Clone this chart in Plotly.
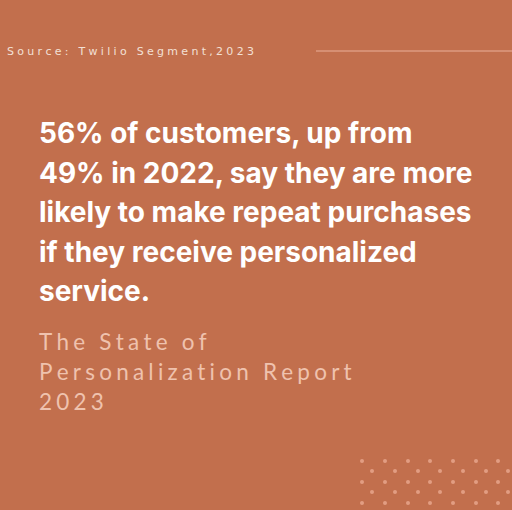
import plotly.graph_objects as go

BG = "#c26f4d"
source_text = "Source: Twilio Segment,2023"
headline = ["56% of customers, up from", "49% in 2022, say they are more",
            "likely to make repeat purchases", "if they receive personalized", "service."]
subtitle = ["The State of", "Personalization Report", "2023"]
dot_cols = [362, 385, 408, 430, 453, 476, 498]
dot_rows = [461, 471, 482, 492, 503]

def spaced(s, sep="\u2009"):
    return sep.join(s)

xs, ys = [], []
for i, r in enumerate(dot_rows):
    off = 10 if i % 2 else 0
    for c in dot_cols:
        xs.append(c + off); ys.append(r)

fig = go.Figure()
fig.add_trace(go.Scatter(x=xs, y=ys, mode="markers",
                         marker=dict(size=4, color="#e29d82"), hoverinfo="skip"))
fig.add_shape(type="line", x0=316, x1=512, y0=51, y1=51,
              line=dict(color="#dc9a80", width=1.5))
anns = [dict(x=5, y=51, text=spaced(source_text, "\u200a\u2009"), xanchor="left", yanchor="middle",
             font=dict(family="DejaVu Sans", size=11, color="#f3e0d6"))]
for i, t in enumerate(headline):
    anns.append(dict(x=37, y=133 + i * 39.5, text="<b>" + t + "</b>", xanchor="left", yanchor="middle",
                     font=dict(family="Inter", size=28, color="white")))
for i, t in enumerate(subtitle):
    anns.append(dict(x=37, y=341 + i * 30, text=spaced(t, "\u200a\u2009"), xanchor="left", yanchor="middle",
                     font=dict(family="Lato", size=22.5, color="#efc2ae")))
for a in anns:
    a.update(showarrow=False, xref="x", yref="y")
fig.update_layout(width=512, height=510, margin=dict(l=0, r=0, t=0, b=0),
                  paper_bgcolor=BG, plot_bgcolor=BG, showlegend=False, annotations=anns,
                  xaxis=dict(range=[0, 512], visible=False, fixedrange=True),
                  yaxis=dict(range=[510, 0], visible=False, fixedrange=True))
fig.write_html("out.html", config={"displayModeBar": False},
               post_script="document.body.style.margin='0';document.body.style.background='" + BG + "';")
